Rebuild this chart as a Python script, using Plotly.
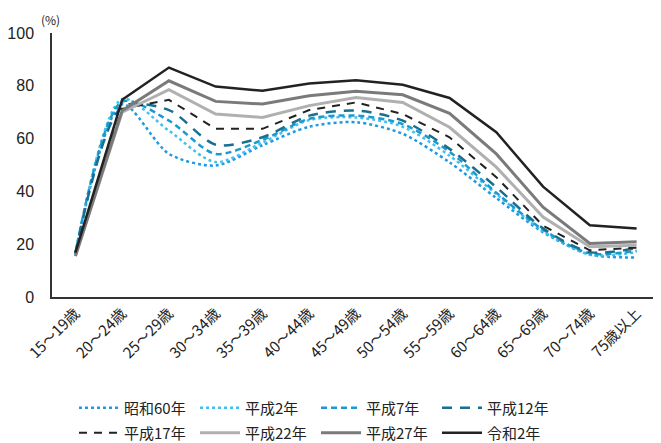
import plotly.graph_objects as go

categories = ["15～19歳", "20～24歳", "25～29歳", "30～34歳", "35～39歳", "40～44歳",
              "45～49歳", "50～54歳", "55～59歳", "60～64歳", "65～69歳", "70～74歳", "75歳以上"]

s60 = [16.6, 73.0, 54.2, 49.8, 57.5, 64.5, 66.2, 61.8, 51.0, 37.5, 24.5, 16.1, 15.0]
h02 = [16.5, 75.0, 63.0, 51.1, 58.5, 67.0, 68.0, 64.5, 53.5, 39.0, 25.0, 16.0, 17.0]
h07 = [16.5, 74.0, 66.8, 54.2, 59.5, 67.5, 68.7, 65.5, 55.0, 39.5, 25.5, 16.5, 17.5]
h12 = [16.5, 72.0, 70.8, 57.7, 60.5, 68.7, 70.6, 66.8, 56.1, 41.6, 26.0, 17.0, 18.5]
h17 = [16.5, 71.3, 74.7, 63.7, 63.7, 70.8, 73.7, 69.3, 60.5, 45.4, 27.0, 17.7, 18.7]
h22 = [15.5, 70.0, 78.5, 69.3, 68.0, 72.5, 75.6, 73.7, 64.3, 49.2, 30.3, 19.0, 19.6]
h27 = [15.5, 70.6, 81.9, 74.1, 73.1, 76.2, 77.9, 76.6, 69.6, 54.2, 34.0, 20.3, 20.9]
r02 = [16.8, 74.7, 86.9, 79.7, 78.1, 80.9, 82.1, 80.4, 75.4, 62.4, 41.8, 27.2, 25.9]

names = ["昭和60年", "平成2年", "平成7年", "平成12年", "平成17年", "平成22年", "平成27年", "令和2年"]
series = [s60, h02, h07, h12, h17, h22, h27, r02]
styles = [
    dict(color="#1E9BE0", dash="dot", width=2.5, shape="spline"),
    dict(color="#45C0EE", dash="dot", width=2.5, shape="spline"),
    dict(color="#1A9AD0", dash="6px,4px", width=2.5, shape="spline"),
    dict(color="#17708F", dash="10px,8px", width=2.5, shape="spline"),
    dict(color="#222222", dash="8px,7px", width=2, shape="linear"),
    dict(color="#B0B0B0", dash="solid", width=3, shape="linear"),
    dict(color="#7A7A7A", dash="solid", width=3, shape="linear"),
    dict(color="#222222", dash="solid", width=2.5, shape="linear"),
]

fig = go.Figure()
for i, (nm, vals, st) in enumerate(zip(names, series, styles)):
    fig.add_trace(go.Scatter(
        x=categories, y=vals, name=nm, mode="lines",
        legend="legend" if i < 4 else "legend2",
        line=dict(color=st["color"], dash=st["dash"], width=st["width"],
                  shape=st["shape"], smoothing=0.8),
    ))

W, H = 653, 435  # page body has an 8px default margin
font_family = "Noto Sans CJK JP, Liberation Sans, sans-serif"
leg_common = dict(orientation="h", xref="container", xanchor="left",
                  yref="container", yanchor="middle",
                  font=dict(size=15, color="#222222"),
                  entrywidth=66, entrywidthmode="pixels",
                  tracegroupgap=0, itemwidth=40, bgcolor="rgba(0,0,0,0)")

fig.update_layout(
    width=W, height=H,
    margin=dict(l=44, r=1, t=25, b=146, autoexpand=False),
    paper_bgcolor="white", plot_bgcolor="white",
    font=dict(family=font_family, color="#222222"),
    showlegend=True,
    legend=dict(x=66 / W, y=35 / H, **leg_common),
    legend2=dict(x=66 / W, y=10 / H, **leg_common),
    xaxis=dict(type="category", range=[-0.5, 12.5], showgrid=False,
               showline=True, linecolor="#333333", linewidth=1.5,
               ticks="", tickangle=-45, tickfont=dict(size=15, color="#222222")),
    yaxis=dict(range=[0, 100], dtick=20, showgrid=False,
               showline=True, linecolor="#333333", linewidth=1.5,
               ticks="", tickfont=dict(size=16, color="#222222", family="Liberation Sans, Arial, sans-serif"),
               zeroline=False, ticklabelstandoff=13),
    annotations=[dict(text="(%)", x=0, xref="paper", xshift=-2, xanchor="center",
                      y=1, yref="paper", yshift=3, yanchor="bottom", showarrow=False,
                      font=dict(size=12, color="#222222"))],
)

fig.write_html("out.html")
